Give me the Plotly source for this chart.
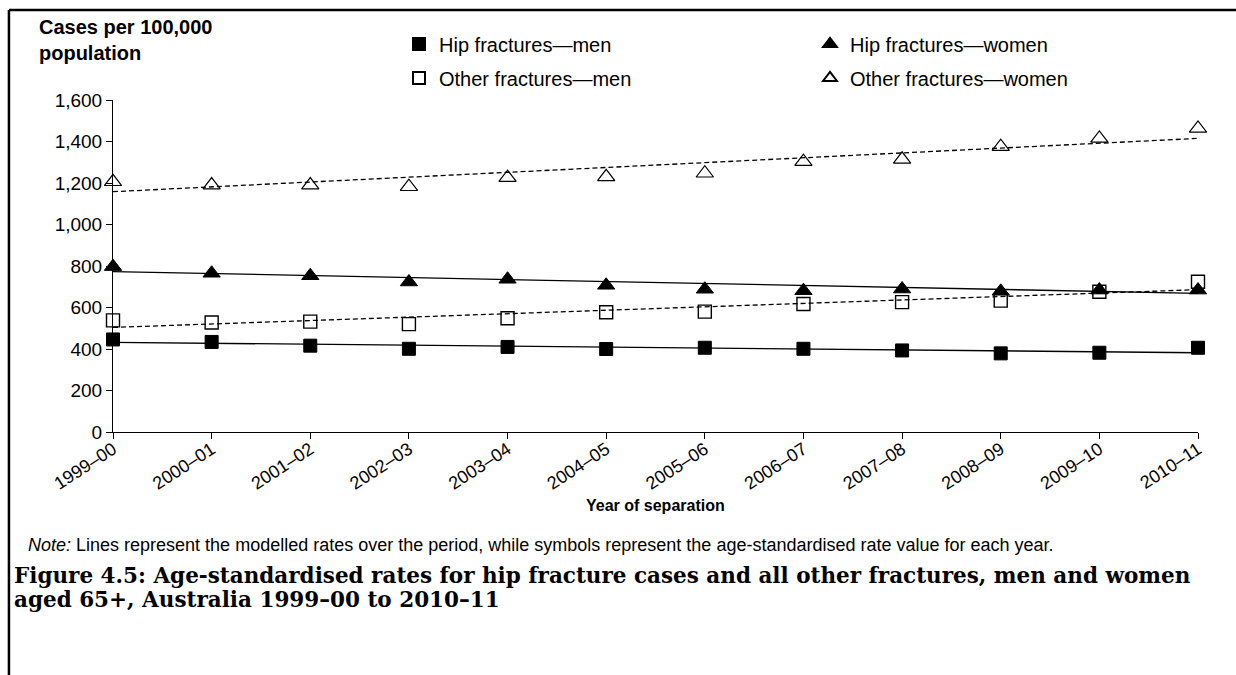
import plotly.graph_objects as go

years = ["1999–00", "2000–01", "2001–02", "2002–03", "2003–04", "2004–05",
         "2005–06", "2006–07", "2007–08", "2008–09", "2009–10", "2010–11"]

# observed age-standardised rates (cases per 100,000)
hip_men = [446, 434, 416, 401, 410, 400, 406, 401, 393, 379, 382, 406]
hip_women = [797, 765, 753, 723, 736, 707, 688, 681, 689, 678, 684, 684]
other_men = [538, 528, 532, 520, 548, 577, 580, 617, 626, 633, 676, 724]
other_women = [1206, 1190, 1190, 1182, 1226, 1230, 1247, 1303, 1314, 1375, 1415, 1463]

# modelled rates at the start and end of the period
hip_men_model = [432, 382]
hip_women_model = [773, 668]
other_men_model = [504, 686]
other_women_model = [1158, 1415]

FONT = "Liberation Sans, Arial, sans-serif"

x_idx = list(range(len(years)))
model_idx = [0, len(years) - 1]

fig = go.Figure()

# modelled trend lines
for vals, dash in [(hip_men_model, "solid"), (hip_women_model, "solid"),
                   (other_men_model, "5px,3px"), (other_women_model, "5px,3px")]:
    fig.add_trace(go.Scatter(x=model_idx, y=vals, mode="lines",
                             line=dict(color="black", width=1.3, dash=dash),
                             showlegend=False, hoverinfo="skip", cliponaxis=False))

# observed rates
fig.add_trace(go.Scatter(x=x_idx, y=hip_men, mode="markers", name="Hip fractures—men",
                         marker=dict(symbol="square", size=13, color="black",
                                     line=dict(color="black", width=1)),
                         cliponaxis=False, legend="legend"))
fig.add_trace(go.Scatter(x=x_idx, y=hip_women, mode="markers", name="Hip fractures—women",
                         marker=dict(symbol="triangle-up", size=15, color="black",
                                     line=dict(color="black", width=1)),
                         cliponaxis=False, legend="legend"))
fig.add_trace(go.Scatter(x=x_idx, y=other_men, mode="markers", name="Other fractures—men",
                         marker=dict(symbol="square-open", size=13, color="black",
                                     line=dict(color="black", width=1.4)),
                         cliponaxis=False, legend="legend2"))
fig.add_trace(go.Scatter(x=x_idx, y=other_women, mode="markers", name="Other fractures—women",
                         marker=dict(symbol="triangle-up-open", size=15, color="black",
                                     line=dict(color="black", width=1.2)),
                         cliponaxis=False, legend="legend2"))

legend_common = dict(orientation="h", xanchor="left", yanchor="middle", x=0.2636,
                     entrywidth=366, itemsizing="constant", itemwidth=30,
                     font=dict(family=FONT, size=20, color="black"),
                     bgcolor="rgba(0,0,0,0)")

fig.update_layout(
    width=1236, height=675,
    margin=dict(l=113, r=38, t=100, b=243),
    paper_bgcolor="white", plot_bgcolor="white",
    font=dict(family=FONT, size=19, color="black"),
    legend=dict(legend_common, y=1.1687),
    legend2=dict(legend_common, y=1.0663),
    xaxis=dict(range=[0, len(years) - 1], tickmode="array", tickvals=x_idx, ticktext=years,
               tickangle=-33, showline=True, linecolor="black", linewidth=1,
               ticks="outside", ticklen=6, tickcolor="black", showgrid=False, zeroline=False,
               ticklabelstandoff=-7, tickfont=dict(size=18)),
    yaxis=dict(range=[0, 1600], dtick=200, tickformat=",", showline=True, linecolor="black",
               linewidth=1, ticks="outside", ticklen=6, tickcolor="black", showgrid=False,
               zeroline=False, tickfont=dict(size=19)),
)

# outer frame: only the top and left edges fall inside the page
frame = dict(type="line", xref="paper", yref="paper", line=dict(color="black", width=2.5))
fig.add_shape(frame, x0=-0.0959, x1=1.3, y0=1.271, y1=1.271)
fig.add_shape(frame, x0=-0.0959, x1=-0.0959, y0=1.271, y1=-1.0)

fig.add_annotation(text="<b>Cases per 100,000<br>population</b>", xref="paper", yref="paper",
                   x=-0.070, y=1.258, xanchor="left", yanchor="top", align="left",
                   showarrow=False, font=dict(family=FONT, size=20))
fig.add_annotation(text="<b>Year of separation</b>", xref="paper", yref="paper",
                   x=0.5, y=-0.2199, xanchor="center", yanchor="middle",
                   showarrow=False, font=dict(family=FONT, size=16))
fig.add_annotation(text="<i>Note:</i> Lines represent the modelled rates over the period, while symbols "
                        "represent the age-standardised rate value for each year.",
                   xref="paper", yref="paper", x=-0.0802, y=-0.3404, xanchor="left", yanchor="middle",
                   showarrow=False, font=dict(family=FONT, size=18))
caption_lines = ["Figure 4.5: Age-standardised rates for hip fracture cases and all other "
                 "fractures, men and women",
                 "aged 65+, Australia 1999–00 to 2010–11"]
for line, yy in zip(caption_lines, [-0.4337, -0.506]):
    fig.add_annotation(text="<b>" + line + "</b>", xref="paper", yref="paper",
                       x=-0.0935, y=yy, xanchor="left", yanchor="middle", align="left",
                       showarrow=False, font=dict(family="DejaVu Serif, serif", size=21.5))

# drop the default 8px body margin so the figure fills the window exactly
fig.write_html("out.html", config={"displayModeBar": False},
               post_script="document.body.style.margin = '0px';")
